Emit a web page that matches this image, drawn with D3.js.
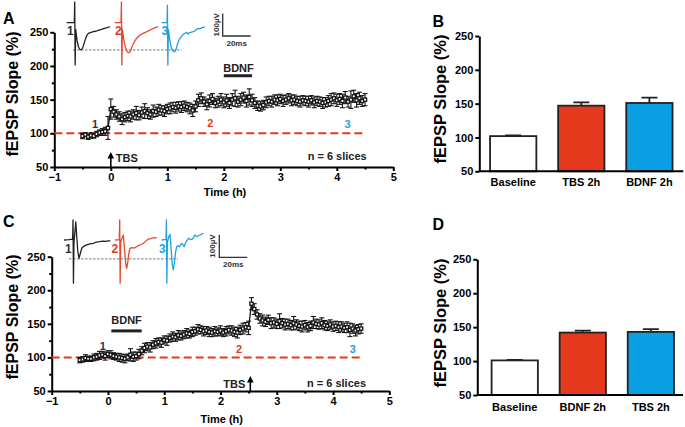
<!DOCTYPE html>
<html><head><meta charset="utf-8">
<script src="https://cdn.jsdelivr.net/npm/d3@7"></script>
<style>
body{margin:0;background:#fff;}
svg{display:block;font-family:"Liberation Sans",Arial,sans-serif;font-weight:bold;}
</style></head><body>
<svg id="fig" width="685" height="427"></svg>
<script>
// ---------------- DATA ----------------
const timeH = [-0.5,-0.45,-0.4,-0.35,-0.3,-0.25,-0.2,-0.15,-0.1,-0.05,
 0,0.05,0.1,0.15,0.2,0.25,0.3,0.35,0.4,0.45,
 0.5,0.55,0.6,0.65,0.7,0.75,0.8,0.85,0.9,0.95,
 1,1.05,1.1,1.15,1.2,1.25,1.3,1.35,1.4,1.45,
 1.5,1.55,1.6,1.65,1.7,1.75,1.8,1.85,1.9,1.95,
 2,2.05,2.1,2.15,2.2,2.25,2.3,2.35,2.4,2.45,
 2.5,2.55,2.6,2.65,2.7,2.75,2.8,2.85,2.9,2.95,
 3,3.05,3.1,3.15,3.2,3.25,3.3,3.35,3.4,3.45,
 3.5,3.55,3.6,3.65,3.7,3.75,3.8,3.85,3.9,3.95,
 4,4.05,4.1,4.15,4.2,4.25,4.3,4.35,4.4,4.45,
 4.5];

const slopeA = [96,98,95,97,96,99,101,102,103,108,
 136,132,128,125,121,124,126,125,128,130,
 127,131,133,130,128,133,132,135,134,133,
 136,137,139,138,140,139,141,139,137,134,
 140,149,152,147,143,148,151,145,147,150,
 146,149,145,150,152,147,150,153,148,154,
 149,145,141,140,142,146,148,147,150,149,
 151,148,150,152,149,150,148,147,149,148,
 147,149,146,148,147,145,146,148,150,152,
 149,151,148,153,147,150,155,149,152,148,
 150];
const errA = [4,3,4,4,3,4,4,5,6,17,
 15,8,7,7,8,7,7,8,7,10,
 7,8,11,8,7,9,7,8,7,8,
 7,8,7,8,7,8,7,7,8,9,
 8,9,8,7,8,9,8,7,8,9,
 8,9,8,9,12,8,9,8,9,12,
 9,8,7,7,7,8,7,8,7,8,
 7,8,7,7,8,7,7,8,7,7,
 8,7,8,7,7,8,7,8,9,8,
 9,8,10,9,8,13,9,10,9,8,
 9];

const slopeC = [96,97,99,98,98,100,101,103,104,102,
 105,104,102,101,100,99,98,100,104,101,
 102,105,110,114,116,115,119,121,123,122,
 126,125,129,131,130,133,132,134,136,135,
 138,139,142,141,139,140,138,137,139,138,
 140,137,139,141,140,138,137,141,143,145,
 144,180,172,164,158,155,153,156,151,152,
 150,154,151,149,150,148,151,149,147,146,
 148,145,147,152,150,149,151,148,147,149,
 146,147,145,146,144,145,141,143,140,142,
 143];
const errC = [4,4,5,4,4,5,5,6,5,6,
 5,6,5,5,6,6,6,5,9,7,
 6,7,6,7,6,7,6,7,6,7,
 6,7,6,7,6,7,6,6,7,6,
 7,6,7,6,7,6,7,6,7,6,
 7,6,7,6,7,7,8,7,8,7,
 10,9,8,7,7,8,7,7,8,7,
 7,11,7,8,7,7,10,7,7,8,
 7,7,7,9,7,7,8,7,7,7,
 7,7,8,7,7,8,10,7,8,7,
 7];

const barCatsB = ["Baseline","TBS 2h","BDNF 2h"];
const barValsB = [102,147,151];
const barErrB  = [1,5,8];
const barCatsD = ["Baseline","BDNF 2h","TBS 2h"];
const barValsD = [101,142,143];
const barErrD  = [0.8,3,4];

const yTicks = [50,100,150,200,250];
const yMinorTicks = [75,125,175,225];
const xTicks = [-1,0,1,2,3,4,5];
const xMinorTicks = [-0.5,0.5,1.5,2.5,3.5,4.5];

// example fEPSP traces: [ms from stimulus, µV from baseline]
const traceA1 = [[-6,0],[-0.5,0],[-0.2,92],[0.1,-188],[0.5,-30],[1.5,-80],[2.5,-108],[3.5,-119],[4.5,-121],[5.5,-112],[6.5,-92],[7.5,-72],[8.5,-56],[9.5,-47],[11,-44],[13,-40],[15,-38],[17,-33],[19,-30],[21,-25],[23,-22],[25,-18]];
const traceA2 = [[-5,0],[-0.5,0],[-0.2,92],[0.1,-188],[0.5,-30],[1.5,-75],[2.5,-105],[3.5,-125],[4.5,-132],[5.4,-133],[6.3,-125],[7.5,-105],[9,-85],[10.7,-69],[12.5,-58],[14.5,-50],[16.5,-44],[18,-40],[20,-33],[22,-27],[24,-22],[26,-18]];
const traceA3 = [[-4.3,0],[-0.5,0],[-0.2,78],[0.1,-188],[0.5,-30],[1.5,-78],[2.5,-108],[3.5,-124],[4.5,-129],[5.2,-128],[6,-118],[7,-95],[8,-78],[8.8,-69],[10,-60],[11,-52],[12.4,-47],[13.5,-43],[14.5,-50],[15.5,-44],[17,-42],[18.3,-40],[19.5,-36],[20.5,-30],[21.9,-25],[23,-27],[24.5,-22],[26.7,-19]];
const traceC1 = [[-6.6,0],[-3,2],[-0.5,4],[-0.2,89],[0.1,-192],[0.5,-10],[1.2,40],[1.8,80],[2.4,20],[3.2,-50],[4.1,-81],[5,-60],[6,-37],[7.5,-28],[9.5,-22],[12,-17],[14.3,-15],[16.5,-9],[19,-7],[21,-5],[23,-6],[25,-4],[26.5,-4]];
const traceC2 = [[-3.6,0],[-0.5,2],[-0.2,89],[0.1,-192],[0.5,-10],[1.5,10],[2.4,22],[3.2,-40],[4,-100],[4.8,-126],[5.6,-95],[6.3,-60],[7.1,-37],[8.5,-34],[10,-36],[11.9,-30],[13.5,-24],[15,-20],[16.7,-15],[18.5,-5],[20.2,4],[22,6],[23.8,10],[25,9],[26.2,11]];
const traceC3 = [[-3.6,0],[-0.5,3],[-0.2,89],[0.1,-192],[0.5,-10],[1.5,15],[2.4,25],[3.2,-45],[4,-110],[4.7,-133],[5.5,-100],[6.3,-55],[7.1,-30],[8,-25],[9,-30],[10.7,-15],[11.5,-20],[12.4,-30],[13.5,-12],[15.5,7],[17,2],[18.5,5],[20.2,22],[21.5,15],[23,20],[24.5,25],[26.2,30]];

// ---------------- STYLE ----------------
const RED = "#e5391d", BLUE = "#0a9fe2", DARK = "#151515";
const traceColors = ["#222222", "#e8472a", "#1fa2dc"];
const labelColors = ["#333333", RED, "#19a3e0"];
const svg = d3.select("#fig");

// ---------------- HELPERS ----------------
function styleAxis(g){
  g.selectAll("path,line").attr("stroke","#000").attr("stroke-width",2);
  g.selectAll("text").attr("font-size",11).attr("font-weight","bold").attr("fill","#000")
   .attr("font-family","'Liberation Sans',Arial,sans-serif");
}
function panelLetter(t,x,y){
  svg.append("text").attr("x",x).attr("y",y).attr("font-size",16).attr("font-weight","bold").text(t);
}
function yTitle(x,y,size){
  svg.append("text").attr("transform",`translate(${x},${y}) rotate(-90)`)
    .attr("text-anchor","middle").attr("font-size",size).text("fEPSP Slope (%)");
}

function timePanel(cfg){
  const x = d3.scaleLinear().domain([-1,5]).range(cfg.xr);
  const y = d3.scaleLinear().domain([50,250]).range(cfg.yr);
  const g = svg.append("g");
  // axes
  const ax = g.append("g").attr("transform",`translate(${cfg.xr[0]},0)`)
    .call(d3.axisLeft(y).tickValues(yTicks).tickSize(4).tickSizeOuter(0).tickPadding(2));
  styleAxis(ax);
  const axm = g.append("g").attr("transform",`translate(${cfg.xr[0]},0)`)
    .call(d3.axisLeft(y).tickValues(yMinorTicks).tickSize(2.5).tickSizeOuter(0).tickFormat(""));
  styleAxis(axm); axm.select(".domain").remove();
  const bx = g.append("g").attr("transform",`translate(0,${cfg.yr[0]})`)
    .call(d3.axisBottom(x).tickValues(xTicks).tickFormat(d3.format("d")).tickSize(4).tickSizeOuter(0).tickPadding(2));
  styleAxis(bx);
  const bxm = g.append("g").attr("transform",`translate(0,${cfg.yr[0]})`)
    .call(d3.axisBottom(x).tickValues(xMinorTicks).tickSize(2.5).tickSizeOuter(0).tickFormat(""));
  styleAxis(bxm); bxm.select(".domain").remove();
  g.append("text").attr("x",cfg.timeLabel[0]).attr("y",cfg.timeLabel[1]).attr("text-anchor","middle")
    .attr("font-size",11).text("Time (h)");

  // baseline dashed line
  g.append("line").attr("x1",x(-1)).attr("x2",x(4.5)).attr("y1",y(100)).attr("y2",y(100))
    .attr("stroke",RED).attr("stroke-width",2).attr("stroke-dasharray","8,4");

  // series
  const data = cfg.v.map((v,i)=>({t:timeH[i], v, e:cfg.e[i]}));
  g.append("path").datum(data).attr("fill","none").attr("stroke",DARK).attr("stroke-width",1.3)
    .attr("d", d3.line().x(d=>x(d.t)).y(d=>y(d.v)));
  const eb = g.append("g").attr("stroke",DARK).attr("stroke-width",1.1);
  eb.selectAll(".v").data(data).join("line")
    .attr("x1",d=>x(d.t)).attr("x2",d=>x(d.t)).attr("y1",d=>y(d.v-d.e)).attr("y2",d=>y(d.v+d.e));
  eb.selectAll(".ct").data(data).join("line").attr("class","ct")
    .attr("x1",d=>x(d.t)-2.5).attr("x2",d=>x(d.t)+2.5).attr("y1",d=>y(d.v+d.e)).attr("y2",d=>y(d.v+d.e));
  eb.selectAll(".cb").data(data).join("line").attr("class","cb")
    .attr("x1",d=>x(d.t)-2.5).attr("x2",d=>x(d.t)+2.5).attr("y1",d=>y(d.v-d.e)).attr("y2",d=>y(d.v-d.e));
  g.append("g").selectAll("rect").data(data).join("rect")
    .attr("x",d=>x(d.t)-1.6).attr("y",d=>y(d.v)-1.6).attr("width",3.2).attr("height",3.2)
    .attr("fill","#fff").attr("stroke",DARK).attr("stroke-width",1.3);

  // BDNF bar
  g.append("text").attr("x",x(cfg.bdnf.tx)).attr("y",y(cfg.bdnf.ty)).attr("text-anchor","middle")
    .attr("font-size",11).attr("fill","#222").text("BDNF");
  g.append("line").attr("x1",x(cfg.bdnf.t0)).attr("x2",x(cfg.bdnf.t1))
    .attr("y1",y(cfg.bdnf.by)).attr("y2",y(cfg.bdnf.by)).attr("stroke","#222").attr("stroke-width",3);

  // time-point labels
  cfg.nums.forEach((p,i)=>{
    g.append("text").attr("x",x(p[0])).attr("y",y(p[1])).attr("text-anchor","middle")
      .attr("font-size",11).attr("fill",labelColors[i]).text(String(i+1));
  });

  // TBS arrow
  const ax0 = x(cfg.tbs.t), yb = cfg.yr[0], ytip = yb-15;
  g.append("line").attr("x1",ax0).attr("x2",ax0).attr("y1",yb).attr("y2",ytip+5)
    .attr("stroke","#000").attr("stroke-width",1.6);
  g.append("path").attr("d",`M${ax0},${ytip} L${ax0-3.3},${ytip+6.5} L${ax0+3.3},${ytip+6.5}Z`).attr("fill","#000");
  g.append("text").attr("x",ax0+cfg.tbs.dx).attr("y",cfg.tbs.y).attr("text-anchor",cfg.tbs.anchor)
    .attr("font-size",11).attr("fill","#222").text("TBS");

  g.append("text").attr("x",cfg.nLabel[0]).attr("y",cfg.nLabel[1]).attr("text-anchor","end")
    .attr("font-size",11).attr("fill","#222").text("n = 6 slices");
}

function inset(cfg){
  const xs = d3.scaleLinear().domain([0,20]).range([0,28]);
  const ys = d3.scaleLinear().domain([0,100]).range([0,-22.5]);
  const g = svg.append("g");
  // dashed reference at trough of trace 1
  g.append("line").attr("x1",cfg.ref[0]).attr("x2",cfg.ref[1])
    .attr("y1",cfg.origins[0][1]+ys(cfg.refUV)).attr("y2",cfg.origins[0][1]+ys(cfg.refUV))
    .attr("stroke","#555").attr("stroke-width",0.8).attr("stroke-dasharray","2.5,1.5");
  cfg.traces.forEach((tr,i)=>{
    const [ox,oy] = cfg.origins[i];
    g.append("path").datum(tr).attr("transform",`translate(${ox},${oy})`)
      .attr("fill","none").attr("stroke",traceColors[i]).attr("stroke-width",1.3)
      .attr("stroke-linejoin","round")
      .attr("d", d3.line().x(d=>xs(d[0])).y(d=>ys(d[1])));
    g.append("text").attr("x",cfg.labels[i][0]).attr("y",cfg.labels[i][1])
      .attr("font-size",12).attr("fill",labelColors[i]).text(String(i+1));
  });
  // scale bar
  const [sx,sy] = cfg.bar;
  g.append("path").attr("d",`M${sx},${sy+ys(100)} L${sx},${sy} L${sx+xs(20)},${sy}`)
    .attr("fill","none").attr("stroke","#333").attr("stroke-width",1.3);
  g.append("text").attr("transform",`translate(${sx-4},${sy+ys(50)}) rotate(-90)`)
    .attr("text-anchor","middle").attr("font-size",8).attr("fill","#333").text("100µV");
  g.append("text").attr("x",sx+xs(10)).attr("y",sy+9.5).attr("text-anchor","middle")
    .attr("font-size",8).attr("fill","#333").text("20ms");
}

function barPanel(cfg){
  const y = d3.scaleLinear().domain([50,250]).range(cfg.yr);
  const x = d3.scaleBand().domain(cfg.cats).range(cfg.xr).paddingInner(0.32).paddingOuter(cfg.po);
  const g = svg.append("g");
  const colors = ["#ffffff", cfg.c2, cfg.c3];
  const data = cfg.cats.map((c,i)=>({c, v:cfg.vals[i], e:cfg.errs[i], col:colors[i]}));
  // error bars (upward)
  g.selectAll(".eb").data(data).join("path").attr("class","eb")
    .attr("d",d=>{const cx=x(d.c)+x.bandwidth()/2, t=y(d.v+d.e);
      return `M${cx},${y(d.v)} L${cx},${t} M${cx-8},${t} L${cx+8},${t}`;})
    .attr("stroke","#222").attr("stroke-width",1.8).attr("fill","none");
  g.selectAll(".bar").data(data).join("rect").attr("class","bar")
    .attr("x",d=>x(d.c)).attr("width",x.bandwidth()).attr("y",d=>y(d.v)).attr("height",d=>y(50)-y(d.v))
    .attr("fill",d=>d.col).attr("stroke","#222").attr("stroke-width",1.8);
  const ay = g.append("g").attr("transform",`translate(${cfg.axisX},0)`)
    .call(d3.axisLeft(y).tickValues(yTicks).tickSize(4).tickSizeOuter(0).tickPadding(2));
  styleAxis(ay);
  const axb = g.append("g").attr("transform",`translate(0,${cfg.yr[0]})`)
    .call(d3.axisBottom(x).tickSize(0).tickPadding(cfg.pad));
  styleAxis(axb); axb.select(".domain").remove();
  g.append("line").attr("x1",cfg.axisX).attr("x2",cfg.xEnd).attr("y1",cfg.yr[0]).attr("y2",cfg.yr[0])
    .attr("stroke","#000").attr("stroke-width",2);
}

// ---------------- PANELS ----------------
panelLetter("A",3,24);
yTitle(17.5,94,16);
timePanel({xr:[54.3,393.3], yr:[167,32.3], v:slopeA, e:errA, timeLabel:[225,195.5],
  bdnf:{tx:2.26, ty:191.5, t0:2, t1:2.5, by:185.5},
  nums:[[-0.28,107.4],[1.76,109.8],[4.19,108.3]],
  tbs:{t:0, dx:5, y:161.5, anchor:"start"}, nLabel:[366.7,160]});
inset({traces:[traceA1,traceA2,traceA3], origins:[[75,22.7],[121.7,22.7],[167.7,22.7]],
  ref:[73,181.7], refUV:-121, labels:[[67,35],[115,35],[161.5,35]], bar:[222.7,36]});

panelLetter("C",3,227);
yTitle(17.5,317,16);
timePanel({xr:[51.7,389.3], yr:[391,256.7], v:slopeC, e:errC, timeLabel:[221.7,423],
  bdnf:{tx:0.33, ty:149.5, t0:0.06, t1:0.6, by:139.5},
  nums:[[-0.09,111.5],[2.33,106.5],[4.35,106.5]],
  tbs:{t:2.53, dx:-5, y:387.7, anchor:"end"}, nLabel:[366,386.7]});
inset({traces:[traceC1,traceC2,traceC3], origins:[[73.3,240],[120,240],[166.7,240]],
  ref:[69,178], refUV:-84, labels:[[65,253.3],[111.5,253.3],[159,253.3]], bar:[219.3,257.3]});

panelLetter("B",432.5,26.5);
yTitle(446,99,16.5);
barPanel({cats:barCatsB, vals:barValsB, errs:barErrB, c2:RED, c3:BLUE,
  yr:[171.3,36], xr:[479.3,683.3], po:0.158, axisX:479.3, xEnd:683.3, pad:7});

panelLetter("D",432.5,230);
yTitle(446,323,16.5);
barPanel({cats:barCatsD, vals:barValsD, errs:barErrD, c2:RED, c3:BLUE,
  yr:[395,259.3], xr:[477.3,688.3], po:0.21, axisX:477.3, xEnd:683, pad:8.5});
</script>
</body></html>
